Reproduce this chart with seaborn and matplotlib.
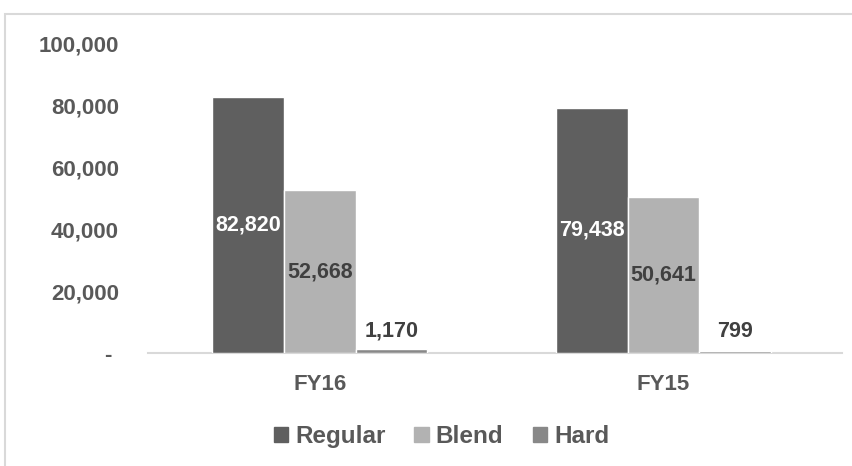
import matplotlib
matplotlib.use("Agg")
import matplotlib.pyplot as plt
import matplotlib.patches as mpatches
import seaborn as sns
import pandas as pd

categories = ["FY16", "FY15"]
series = ["Regular", "Blend", "Hard"]
regular = [82820, 79438]
blend = [52668, 50641]
hard = [1170, 799]
colors = ["#5f5f5f", "#b2b2b2", "#888888"]

rows = []
for s, vals in zip(series, [regular, blend, hard]):
    for c, v in zip(categories, vals):
        rows.append({"cat": c, "series": s, "value": v})
df = pd.DataFrame(rows)

sns.set_style("white")
plt.rcParams["font.family"] = ["Liberation Sans", "DejaVu Sans"]
plt.rcParams["font.weight"] = "bold"

fig = plt.figure(figsize=(8.52, 4.66), dpi=100)
ax = fig.add_axes([0.1737, 0.2425, 0.815, 0.6631])

sns.barplot(data=df, x="cat", y="value", hue="series", order=categories,
            hue_order=series, palette=colors, width=0.625, gap=0,
            saturation=1, errorbar=None, ax=ax, legend=False, zorder=3)

ax.set_xlim(-0.5, 1.52)
ax.set_ylim(0, 100000)
ax.set_yticks([0, 20000, 40000, 60000, 80000, 100000])
ax.set_yticklabels(["- ", "20,000", "40,000", "60,000", "80,000", "100,000"],
                   fontweight="bold")
ax.set_xticks([0, 1])
ax.set_xticklabels(categories, fontweight="bold")
ax.set_xlabel("")
ax.set_ylabel("")
for sp in ["top", "right", "left"]:
    ax.spines[sp].set_visible(False)
ax.spines["bottom"].set_color("#d9d9d9")
ax.spines["bottom"].set_linewidth(1.5)
ax.spines["bottom"].set_zorder(2)
ax.tick_params(axis="both", length=0, labelsize=16, labelcolor="#595959")
ax.tick_params(axis="y", pad=21)
ax.tick_params(axis="x", pad=15)

conts = ax.containers
lab_colors = ["white", "#404040", "#404040"]
for i, (cont, vals) in enumerate(zip(conts, [regular, blend, hard])):
    labels = [f"{v:,}" for v in vals]
    if i < 2:
        ax.bar_label(cont, labels=labels, label_type="center", color=lab_colors[i],
                     fontsize=15.5, fontweight="bold")
    else:
        ax.bar_label(cont, labels=labels, label_type="edge", padding=6,
                     color=lab_colors[i], fontsize=15.5, fontweight="bold")

handles = [mpatches.Patch(color=c, label=s) for c, s in zip(colors, series)]
fig.legend(handles=handles, loc="center", bbox_to_anchor=(0.518, 0.064), ncol=3,
           frameon=False, handlelength=0.58, handleheight=0.58, handletextpad=0.3,
           columnspacing=1.2, prop={"size": 17.5, "weight": "bold"},
           labelcolor="#595959")

border = mpatches.Rectangle((5 / 852, -0.2), 1.2, 1.2 - 14 / 466,
                            transform=fig.transFigure, fill=False,
                            edgecolor="#d9d9d9", linewidth=1.5)
fig.patches.append(border)

fig.savefig("out.png", dpi=100)
